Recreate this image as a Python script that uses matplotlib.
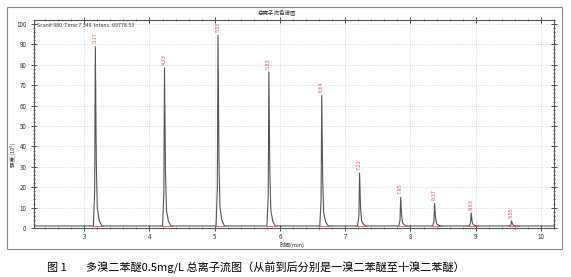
import matplotlib.pyplot as plt
import matplotlib.patches as patches
from matplotlib.ticker import MultipleLocator

plt.rcParams['font.family'] = ['Noto Sans CJK SC', 'DejaVu Sans']

# retention times (min) and peak heights (x10^5)
peak_times = [3.17, 4.23, 5.05, 5.83, 6.64, 7.22, 7.85, 8.37, 8.93, 9.55]
peak_heights = [88, 77.5, 93.5, 75.5, 64, 26, 14, 11, 6.5, 2.5]
peak_labels = ['3.17', '4.23', '5.05', '5.83', '6.64', '7.22', '7.85', '8.37', '8.93', '9.55']
baseline = 1.0

# build the trace: flat baseline with a narrow tailing peak at each retention time
xs = [2.23]
ys = [baseline]
for t, h in zip(peak_times, peak_heights):
    xs += [t - 0.03, t - 0.01, t, t + 0.015, t + 0.03, t + 0.06, t + 0.1]
    ys += [baseline, baseline + h * 0.2, baseline + h, baseline + h * 0.35,
           baseline + h * 0.1, baseline + h * 0.03, baseline]
xs.append(10.2)
ys.append(baseline)

fig = plt.figure(figsize=(5.71, 2.77), dpi=100)
ax = fig.add_axes([34 / 571, 1 - 228 / 277, 520 / 571, 208 / 277])

ax.plot(xs, ys, color='#555555', lw=0.8)
for t in peak_times:
    ax.plot([t - 0.05, t + 0.12], [baseline, baseline], color='#e05050', lw=0.6)
for t, h, lab in zip(peak_times, peak_heights, peak_labels):
    ax.text(t, baseline + h + 1.5, lab, rotation=90, color='#e05050',
            fontsize=4, ha='center', va='bottom')

ax.set_xlim(2.23, 10.2)
ax.set_ylim(0, 102)
ax.xaxis.set_major_locator(MultipleLocator(1))
ax.xaxis.set_minor_locator(MultipleLocator(0.2))
ax.yaxis.set_major_locator(MultipleLocator(10))
ax.yaxis.set_minor_locator(MultipleLocator(2))
ax.set_xticks(range(3, 11))
ax.tick_params(which='both', direction='inout', labelsize=4.5, colors='#333333',
               top=True, right=True, labeltop=False, labelright=False)
ax.tick_params(which='major', length=4, width=0.6)
ax.tick_params(which='minor', length=2, width=0.5)
ax.tick_params(axis='x', pad=1.5)
ax.grid(True, which='major', ls=':', color='#cccccc', lw=0.6)
for s in ax.spines.values():
    s.set_color('#555555')
    s.set_linewidth(0.8)

ax.text(0.005, 0.985, 'Scan#:980  Time:7.349  Intens.:69778.53', transform=ax.transAxes,
        fontsize=3.8, va='top', ha='left', color='#333333')
fig.text(277 / 571, 1 - 13 / 277, '总离子流色谱图', fontsize=4, ha='center', va='center',
         color='#333333')
fig.text(292 / 571, 1 - 244.5 / 277, '时间(min)', fontsize=4, ha='center', va='center',
         color='#333333')
fig.text(13 / 571, 1 - 155 / 277, '强度 (10⁵)', fontsize=4, ha='center', va='center',
         rotation=90, color='#333333')

frame = patches.Rectangle((7 / 571, 1 - 249 / 277), 555 / 571, 242 / 277,
                          transform=fig.transFigure, fill=False, ec='#888888', lw=0.8)
fig.add_artist(frame)

fig.text(47 / 571, 1 - 268 / 277, '图 1', fontsize=8, ha='left', va='center')
fig.text(86 / 571, 1 - 268 / 277,
         '多溴二苯醚0.5mg/L 总离子流图（从前到后分别是一溴二苯醚至十溴二苯醚）',
         fontsize=8, ha='left', va='center')

fig.savefig('out.png', dpi=100)
